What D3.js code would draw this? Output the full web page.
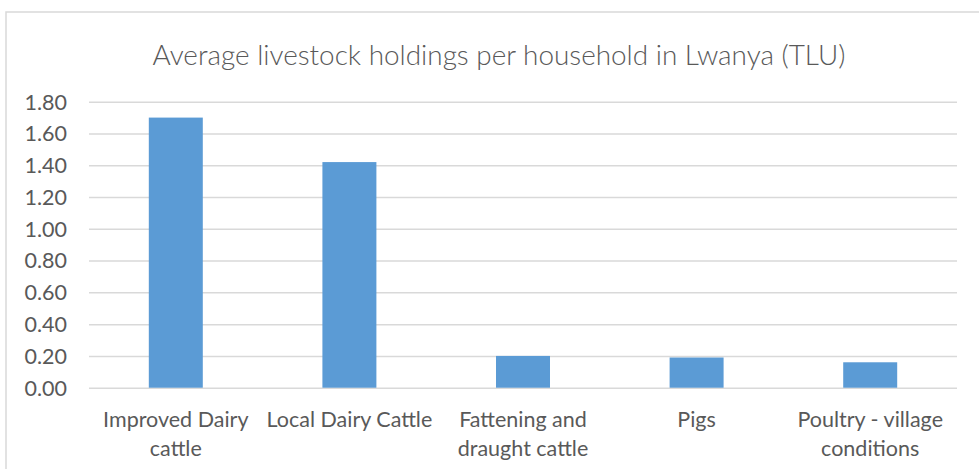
<!DOCTYPE html>
<html>
<head>
<meta charset="utf-8">
<script src="https://cdn.jsdelivr.net/npm/d3@7"></script>
<style>
  html, body { margin: 0; padding: 0; background: #fff; }
  svg { display: block; }
  text { font-family: Lato, "Open Sans", sans-serif; fill: #595959; }
</style>
</head>
<body>
<svg id="chart" width="979" height="469"></svg>
<script>
// Average livestock holdings per household (TLU)
const categories = [
  "Improved Dairy cattle",
  "Local Dairy Cattle",
  "Fattening and draught cattle",
  "Pigs",
  "Poultry - village conditions"
];
const values = [1.70, 1.42, 0.20, 0.19, 0.16];
const tickValues = [0, 0.2, 0.4, 0.6, 0.8, 1.0, 1.2, 1.4, 1.6, 1.8];
const title = "Average livestock holdings per household in Lwanya (TLU)";

const svg = d3.select("#chart");
const W = 979, H = 469;
const margin = { left: 89, right: 22, top: 101.7, bottom: 81.3 };
const labelSize = "21.5px";

// chart frame (top and left edges visible)
svg.append("path")
  .attr("d", `M6,${H} L6,12 L${W},12`)
  .attr("fill", "none")
  .attr("stroke", "#d9d9d9")
  .attr("stroke-width", 1.5);

svg.append("text")
  .attr("x", 499)
  .attr("y", 65)
  .attr("text-anchor", "middle")
  .style("font-size", "27.9px")
  .style("font-weight", 300)
  .text(title);

const x = d3.scaleBand()
  .domain(categories)
  .range([margin.left, W - margin.right])
  .paddingInner(0)
  .paddingOuter(0);

const y = d3.scaleLinear()
  .domain([0, 1.8])
  .range([H - margin.bottom, margin.top]);

// gridlines
const yAxis = d3.axisLeft(y)
  .tickValues(tickValues)
  .tickFormat(d3.format(".2f"))
  .tickSize(-(W - margin.left - margin.right))
  .tickPadding(22);

const gy = svg.append("g")
  .attr("transform", `translate(${margin.left},0)`)
  .call(yAxis);
gy.select(".domain").remove();
gy.selectAll(".tick line")
  .attr("stroke", "#d9d9d9")
  .attr("stroke-width", 1.5);
gy.selectAll(".tick text")
  .style("font-size", labelSize)
  .style("font-family", "Lato, sans-serif")
  .attr("fill", "#595959")
  .attr("dy", "0.34em");

// bars
const barW = x.bandwidth() * 0.311;
svg.append("g")
  .selectAll("rect")
  .data(values)
  .join("rect")
  .attr("x", (d, i) => x(categories[i]) + (x.bandwidth() - barW) / 2)
  .attr("y", d => y(d))
  .attr("width", barW)
  .attr("height", d => y(0) - y(d))
  .attr("fill", "#5b9bd5");

// category labels, wrapped to the band width
const labelG = svg.append("g");
categories.forEach(cat => {
  const cx = x(cat) + x.bandwidth() / 2;
  const t = labelG.append("text")
    .attr("x", cx)
    .attr("y", 427)
    .attr("text-anchor", "middle")
    .style("font-size", labelSize);
  const words = cat.split(" ");
  let lines = [], line = [];
  const probe = labelG.append("text").style("font-size", labelSize);
  words.forEach(w => {
    const trial = line.concat([w]).join(" ");
    probe.text(trial);
    if (line.length && probe.node().getComputedTextLength() > x.bandwidth() + 4) {
      lines.push(line.join(" "));
      line = [w];
    } else {
      line.push(w);
    }
  });
  lines.push(line.join(" "));
  probe.remove();
  lines.forEach((l, i) => {
    t.append("tspan")
      .attr("x", cx)
      .attr("dy", i === 0 ? 0 : 28.5)
      .text(l);
  });
});
</script>
</body>
</html>
